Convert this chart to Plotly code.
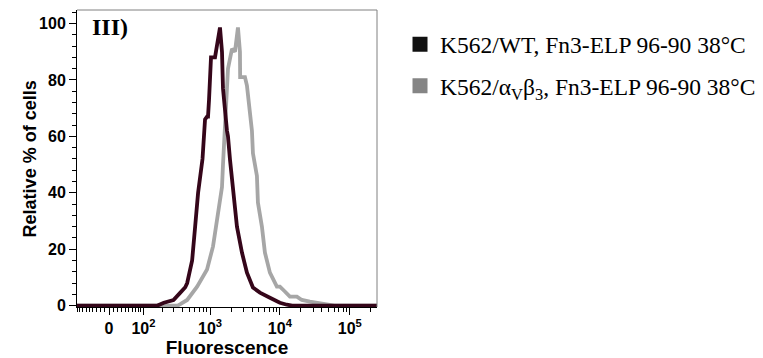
import numpy as np
import plotly.graph_objects as go

# ---------------- data (fluorescence value, % of max) ----------------
wt_fluor = [-91, 170, 213, 296, 373, 440, 469, 553, 611, 674, 780, 848, 906, 936, 968,
            1000, 1033, 1179, 1218, 1259, 1389, 1484, 1534, 1749, 1808, 1931, 2132,
            2431, 2865, 3377, 4115, 5179, 7197, 10000, 12590, 15000, 245000]
wt_pct = [0, 0, 1.0, 2.0, 4.6, 6.5, 8, 16, 28, 40, 52, 66, 67, 67, 73,
          80, 88, 88, 90, 91, 98.6, 90, 77, 62, 60, 51.8, 40,
          28, 18.8, 11.7, 6.4, 4.6, 2.8, 1.0, 0.3, 0, 0]

avb3_fluor = [-91, 340, 373, 469, 652, 906, 1104, 1301, 1484, 1534, 1638, 1749, 1808,
              2063, 2276, 2512, 2683, 2700, 3162, 3377, 3728, 3981, 4115, 4394, 4692,
              4849, 5531, 6105, 7197, 9057, 10000, 11790, 13900, 17490, 20610, 26830,
              37280, 46920, 60000, 245000]
avb3_pct = [0, 0, 0.5, 2, 6.7, 12.8, 21, 31.6, 42, 50, 62, 74, 84,
            91, 90, 98.6, 90, 81, 81, 78, 69.5, 62, 54, 50.7, 46,
            36.5, 28, 18.8, 11.7, 6.7, 6.7, 5, 3.2, 3.2, 2, 1.4,
            0.7, 0.3, 0, 0]

x_tick_values = [0, 100, 1000, 10000, 100000]
x_tick_labels = ["0", "10<sup>2</sup>", "10<sup>3</sup>", "10<sup>4</sup>", "10<sup>5</sup>"]
y_tick_values = [0, 20, 40, 60, 80, 100]
series_names = ["K562/WT, Fn3-ELP 96-90 38°C",
                "K562/α<sub>V</sub>β<sub>3</sub>, Fn3-ELP 96-90 38°C"]


# biexponential-like display scale (asinh)
def biex(v):
    v = np.asarray(v, dtype=float)
    return 1.557 + np.arcsinh(v / 72.0) / np.log(10)


minor_vals = [v for v in range(-90, 100, 10) if v != 0]
for k in (100, 1000, 10000, 100000):
    for m in range(2, 10):
        if m * k < 245000:
            minor_vals.append(m * k)

fig = go.Figure()
fig.add_trace(go.Scatter(x=biex(avb3_fluor), y=avb3_pct, mode="lines",
                         line=dict(color="#a6a6a6", width=3.8), showlegend=False))
fig.add_trace(go.Scatter(x=biex(wt_fluor), y=wt_pct, mode="lines",
                         line=dict(color="#35061a", width=3.8), showlegend=False))
# legend entries (square swatches)
fig.add_trace(go.Scatter(x=[None], y=[None], mode="markers", name=series_names[0],
                         legendgroup="a",
                         marker=dict(symbol="square", size=15, color="#111111")))
fig.add_trace(go.Scatter(x=[None], y=[None], mode="markers", name=series_names[1],
                         legendgroup="b",
                         marker=dict(symbol="square", size=15, color="#858585")))

tick_font = dict(family="Liberation Sans, Arial", size=16, color="black", weight="bold")
title_font = dict(family="Liberation Sans, Arial", size=19, color="black", weight="bold")

# the page body adds an 8px offset; the figure is sized to fit inside the window
fig.update_layout(
    width=755, height=350,
    margin=dict(l=69, r=386, t=2, b=51, autoexpand=False),
    plot_bgcolor="white", paper_bgcolor="white",
    xaxis=dict(
        automargin=False,
        range=[float(biex(-91)), float(biex(245000))],
        tickmode="array", tickvals=biex(x_tick_values).tolist(), ticktext=x_tick_labels,
        ticks="outside", ticklen=7, tickcolor="black", tickwidth=1,
        minor=dict(tickvals=biex(minor_vals).tolist(), ticks="outside", ticklen=4,
                   tickcolor="black", tickwidth=1),
        showgrid=False, zeroline=False, showline=True, linecolor="black", linewidth=1,
        tickfont=tick_font,
        title=dict(text="Fluorescence", font=title_font, standoff=0),
    ),
    yaxis=dict(
        automargin=False,
        range=[-0.5, 104.8],
        tickmode="array", tickvals=y_tick_values,
        ticks="outside", ticklen=7, tickcolor="black", tickwidth=1,
        minor=dict(dtick=4, tick0=0, ticks="outside", ticklen=4, tickcolor="black",
                   tickwidth=1, showgrid=False),
        showgrid=False, zeroline=False, showline=True, linecolor="black", linewidth=1,
        tickfont=tick_font,
    ),
    legend=dict(
        x=1.0767, y=0.958, xanchor="left", yanchor="top",
        font=dict(family="Liberation Serif, Times New Roman", size=23.5, color="black"),
        traceorder="grouped", tracegroupgap=8,
        bgcolor="rgba(0,0,0,0)",
    ),
    shapes=[
        dict(type="line", xref="paper", yref="paper", x0=0, x1=1, y0=1, y1=1,
             line=dict(color="#808080", width=1)),
        dict(type="line", xref="paper", yref="paper", x0=1, x1=1, y0=0, y1=1,
             line=dict(color="#808080", width=1)),
    ],
    annotations=[
        dict(text="III)", xref="paper", yref="paper", x=0.043, y=0.992,
             xanchor="left", yanchor="top", showarrow=False,
             font=dict(family="Liberation Serif, Times New Roman", size=24,
                       color="black", weight="bold")),
        dict(text="Relative % of cells", xref="paper", yref="paper",
             x=-0.157, y=0.5, xanchor="center", yanchor="middle", textangle=-90,
             showarrow=False, font=dict(title_font, size=18)),
    ],
)

fig.write_html("out.html")
